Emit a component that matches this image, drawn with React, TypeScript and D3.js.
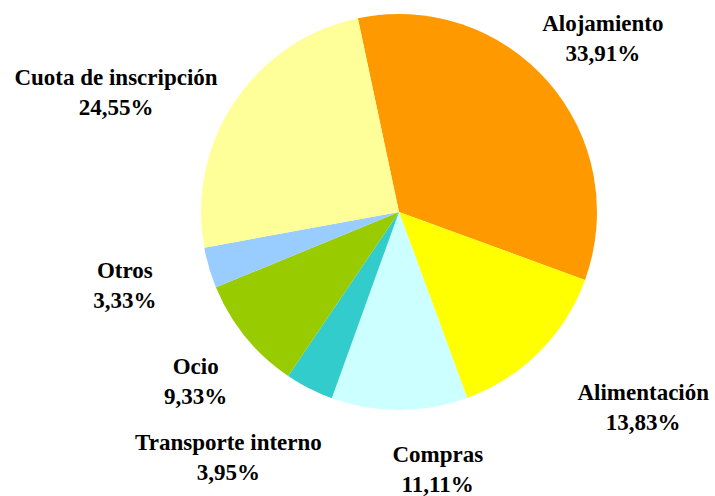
import * as d3 from "d3";

const categories = [
  "Alojamiento",
  "Alimentación",
  "Compras",
  "Transporte interno",
  "Ocio",
  "Otros",
  "Cuota de inscripción",
];
const values = [33.91, 13.83, 11.11, 3.95, 9.33, 3.33, 24.55];
const colors = ["#FF9900", "#FFFF00", "#CCFFFF", "#33CCCC", "#99CC00", "#99CCFF", "#FFFF99"];
// label placement tweaks (px) relative to the mid-angle point outside the pie
const labelNudge: [number, number][] = [
  [3, 0],
  [56, 7],
  [38, -9],
  [-50, 8],
  [3, 1],
  [-19, -2],
  [-62, 28],
];

const width = 715;
const height = 496;
const cx = 399;
const cy = 212;
const radius = 198;
const startDeg = -12;

const fmt = (v: number) => v.toFixed(2).replace(".", ",") + "%";

export default function App() {
  const data = categories.map((c, i) => ({ name: c, value: values[i], i }));

  const pie = d3
    .pie<{ name: string; value: number; i: number }>()
    .value((d) => d.value)
    .sort(null)
    .startAngle((startDeg * Math.PI) / 180)
    .endAngle((startDeg * Math.PI) / 180 + 2 * Math.PI);

  const arcs = pie(data);
  const arc = d3
    .arc<d3.PieArcDatum<{ name: string; value: number; i: number }>>()
    .innerRadius(0)
    .outerRadius(radius);
  const labelArc = d3
    .arc<d3.PieArcDatum<{ name: string; value: number; i: number }>>()
    .innerRadius(radius + 68)
    .outerRadius(radius + 68);

  return (
    <svg
      width={width}
      height={height}
      viewBox={`0 0 ${width} ${height}`}
      style={{ position: "absolute", left: 0, top: 0 }}
    >
      <rect width={width} height={height} fill="#fff" />
      <g transform={`translate(${cx},${cy})`}>
        {arcs.map((a, i) => (
          <path key={i} d={arc(a) || ""} fill={colors[i]} />
        ))}
        {arcs.map((a, i) => {
          // labelArc centroid sits on the radius+68 circle
          const [x, y] = labelArc.centroid(a);
          const lx = x + labelNudge[i][0];
          const ly = y + labelNudge[i][1];
          return (
            <text
              key={"l" + i}
              textAnchor="middle"
              style={{ fontFamily: '"Liberation Serif"', fontWeight: 700, fontSize: "23px" }}
              fill="#000"
            >
              <tspan x={lx} y={ly - 7}>
                {a.data.name}
              </tspan>
              <tspan x={lx} y={ly + 23}>
                {fmt(a.data.value)}
              </tspan>
            </text>
          );
        })}
      </g>
    </svg>
  );
}
